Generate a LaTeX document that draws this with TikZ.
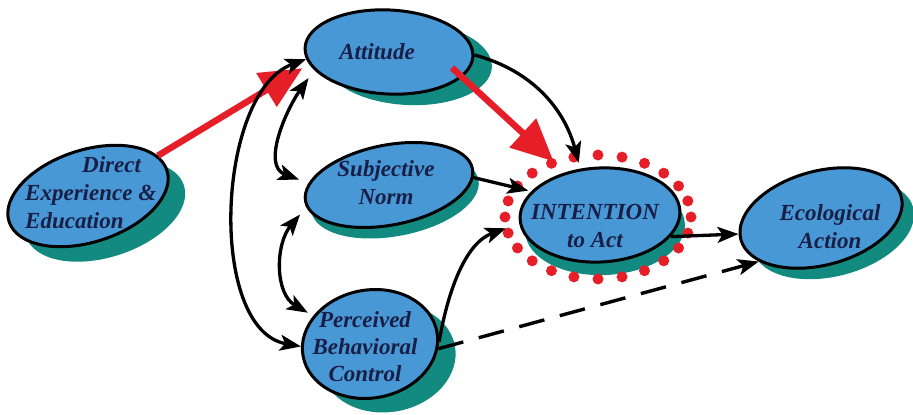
\documentclass[tikz,border=0pt]{standalone}
\usepackage{fontspec}
\setmainfont{Liberation Serif}
\usetikzlibrary{shapes.geometric,arrows.meta}
\definecolor{ellblue}{RGB}{72,152,214}
\definecolor{shadowteal}{RGB}{18,138,128}
\definecolor{ringred}{RGB}{230,30,40}
\definecolor{txtnavy}{RGB}{25,30,70}
\tikzset{
  ellbox/.style={ellipse, draw=black, line width=3pt, fill=ellblue, inner sep=0pt},
  ellshadow/.style={ellipse, fill=shadowteal, draw=none, inner sep=0pt},
  lbl/.style={text=txtnavy, font=\fontsize{23}{28}\selectfont\bfseries\itshape, align=center, inner sep=0pt},
  conn/.style={line width=3.3pt, -{Stealth[length=21pt,width=16pt,inset=5pt]}},
  biconn/.style={line width=3.3pt, {Stealth[length=21pt,width=16pt,inset=5pt]}-{Stealth[length=21pt,width=16pt,inset=5pt]}},
  redarrow/.style={draw=ringred, line width=6.5pt, -{Triangle[length=42pt,width=38pt]}},
  dashconn/.style={line width=3.4pt, dash pattern=on 26pt off 16pt, -{Stealth[length=21pt,width=16pt,inset=5pt]}},
}
\begin{document}
\begin{tikzpicture}[x=1pt,y=1pt]
\useasboundingbox (0,0) rectangle (913,415);
% shadows
\node[ellshadow, minimum width=166pt, minimum height=92pt, rotate=18] (dirS) at (105,204) {};
\node[ellshadow, minimum width=168pt, minimum height=84pt, rotate=-3] (attS) at (408,352) {};
\node[ellshadow, minimum width=170pt, minimum height=80pt, rotate=11] (snS) at (395,219) {};
\node[ellshadow, minimum width=160pt, minimum height=94pt, rotate=3] (intS) at (605,187) {};
\node[ellshadow, minimum width=166pt, minimum height=94pt, rotate=15] (ecoS) at (833,186) {};
\node[ellshadow, minimum width=136pt, minimum height=108pt, rotate=10] (pbcS) at (388,57) {};
% ellipses
\node[ellbox, minimum width=166pt, minimum height=92pt, rotate=18] (dir) at (88,219) {};
\node[ellbox, minimum width=168pt, minimum height=84pt, rotate=-3] (att) at (389,363) {};
\node[ellbox, minimum width=170pt, minimum height=80pt, rotate=11] (sn) at (389,230) {};
\node[ellbox, minimum width=160pt, minimum height=94pt, rotate=3] (int) at (600,200) {};
\node[ellbox, minimum width=166pt, minimum height=94pt, rotate=15] (eco) at (821,197) {};
\node[ellbox, minimum width=136pt, minimum height=108pt, rotate=10] (pbc) at (370,71) {};
% red dotted ring
\foreach \a in {0,15,...,345}
  \fill[ringred] ([shift={(-2pt,-2pt)}]int.center) ++(\a:93pt and 62pt) circle (5.5pt);
% labels
\node[lbl, align=left, anchor=west] (dirT) at (25,222) {\hspace*{57pt}Direct\\Experience \&\\Education};
\node[lbl] (attT) at (377,363) {Attitude};
\node[lbl] (snT) at (386,232) {Subjective\\Norm};
\node[lbl] (intT) at (595,189) {INTENTION\\to Act};
\node[lbl] (ecoT) at (830,188) {Ecological\\Action};
\node[lbl, font=\fontsize{23}{27}\selectfont\bfseries\itshape] (pbcT) at (365,68) {Perceived\\Behavioral\\Control};
% red arrows
\draw[redarrow] (dir.12) -- ([xshift=-10pt]att.195);
\draw[redarrow, shorten <=-14pt, shorten >=16pt] (att.-16) -- (int.126);
% black connectors
\draw[conn, shorten >=6pt] (att.1) to[out=-15,in=105] (int.110);
\draw[conn, shorten >=3pt] (sn.-6) -- (int.158);
\draw[conn, shorten >=14pt] (pbc.-8) to[out=80,in=200] (int.183);
\draw[conn] (int.-20) -- (eco.176);
\draw[dashconn] (pbc.-14) -- (eco.200);
% left bidirectional arcs
\draw[biconn] ([xshift=-16pt]att.205) to[out=235,in=160] ([xshift=-12pt]sn.165);
\draw[biconn] ([xshift=-12pt]sn.190) to[out=230,in=150] ([xshift=-8pt]pbc.140);
\draw[biconn] (att.188) to[out=200,in=170,looseness=0.85] (pbc.172);
\end{tikzpicture}
\end{document}
